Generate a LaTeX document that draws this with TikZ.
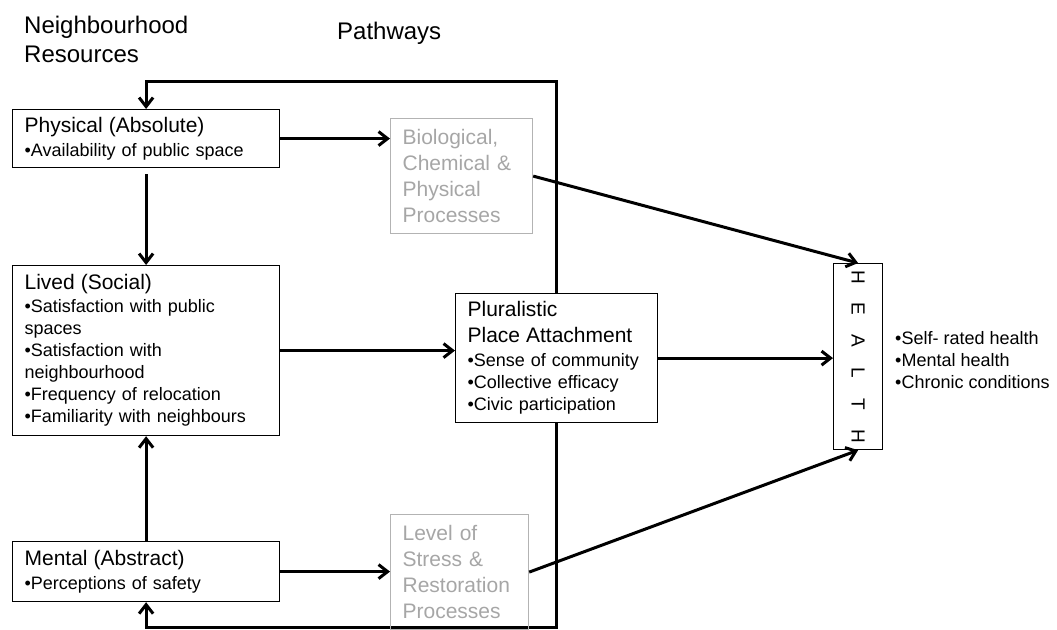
\documentclass[tikz,border=0pt]{standalone}
\usepackage{fontspec}
\setmainfont{Liberation Sans}
\usepackage{graphicx}
\usetikzlibrary{arrows.meta,backgrounds}
\definecolor{grayt}{HTML}{A6A6A6}
\definecolor{grayb}{HTML}{B3B3B3}
\newcommand\hdf{\fontsize{21}{26}\selectfont}
\newcommand\blf{\fontsize{18}{22}\selectfont}
\newcommand\ttlf{\fontsize{24}{29}\selectfont}
\newcommand\hltr[1]{\makebox[14pt]{#1}}
\begin{document}
\begin{tikzpicture}[x=1pt,y=-1pt,
  box/.style={draw=black, line width=1.2pt, fill=white, inner xsep=12pt, inner ysep=0pt, align=left, anchor=north west, font=\blf},
  gbox/.style={box, draw=grayb, fill=none, text=grayt, font=\hdf},
  tip/.tip={Straight Barb[length=9pt,width=14pt]},
  conn/.style={line width=3pt, -tip},
  ttl/.style={font=\ttlf, inner sep=0pt, align=left}]
\useasboundingbox (0,0) rectangle (1057,629);

\node[ttl, anchor=north west] (nr) at (24,16) {Neighbourhood\\Resources};
\node[ttl, anchor=base west] (pw) at (337,39) {Pathways};

\node[box, minimum width=267pt, minimum height=58pt, text width=243pt] (phys) at (12,109)
  {{\hdf Physical (Absolute)}\\[2pt]•Availability of public space};
\node[box, minimum width=267pt, minimum height=170pt, text width=243pt] (lived) at (12,265)
  {{\hdf Lived (Social)}\\[1pt]•Satisfaction with public\\spaces\\•Satisfaction with\\neighbourhood\\•Frequency of relocation\\•Familiarity with neighbours};
\node[box, minimum width=267pt, minimum height=60pt, text width=243pt] (mental) at (12,541)
  {{\hdf Mental (Abstract)}\\[2pt]•Perceptions of safety};
\node[gbox, minimum width=142pt, minimum height=115pt, text width=118pt] (bio) at (390,118)
  {Biological,\\Chemical \&\\Physical\\Processes};
\node[gbox, minimum width=138pt, minimum height=115pt, text width=114pt] (stress) at (390,514)
  {Level of\\Stress \&\\Restoration\\Processes};
\node[box, minimum width=202pt, minimum height=129pt, text width=178pt] (plur) at (455,293)
  {{\hdf Pluralistic}\\[4pt]{\hdf Place Attachment}\\[2pt]•Sense of community\\•Collective efficacy\\•Civic participation};
\node[draw=black, line width=1.2pt, fill=white, inner sep=0pt, minimum width=49pt, minimum height=186pt, anchor=north west, font=\fontsize{19}{22}\selectfont] (health) at (833,263)
  {\rotatebox{-90}{\hltr{H}\hspace{17.8pt}\hltr{E}\hspace{17.8pt}\hltr{A}\hspace{17.8pt}\hltr{L}\hspace{17.8pt}\hltr{T}\hspace{17.8pt}\hltr{H}}};
\node[font=\blf, align=left, inner sep=0pt, anchor=west] (out) at (895,360)
  {•Self- rated health\\•Mental health\\•Chronic conditions};

\coordinate (ctop) at (556,81);
\coordinate (cbot) at (556,627);
\begin{scope}[on background layer]
\draw[line width=3pt, tip-tip] (phys.north) |- (ctop) -- (cbot) -| (mental.south);
\end{scope}

\draw[conn, shorten <=6pt] (phys.south) -- (lived.north);
\draw[conn] (mental.north) -- (lived.south);
\draw[conn] (phys.east) -- (phys.east -| bio.west);
\draw[conn] (lived.east) -- (lived.east -| plur.west);
\draw[conn] (mental.east) -- (mental.east -| stress.west);
\draw[conn] (bio.east) -- (health.north);
\draw[conn] (plur.east) -- (plur.east -| health.west);
\draw[conn] (stress.east) -- (health.south);
\end{tikzpicture}
\end{document}
